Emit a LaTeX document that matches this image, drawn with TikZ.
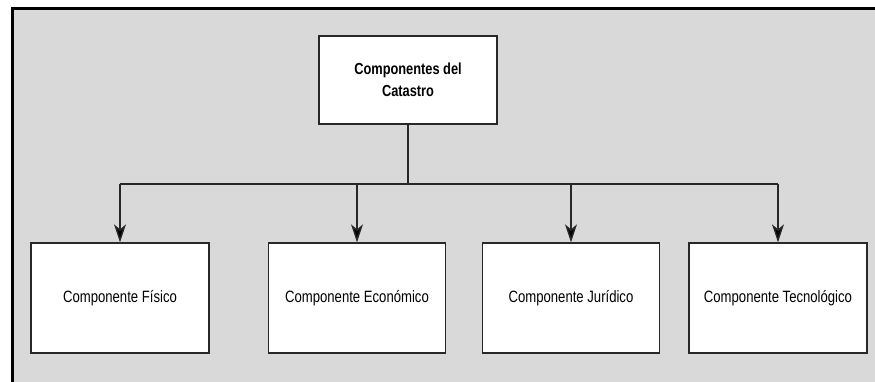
\documentclass[tikz,border=0pt]{standalone}
\usepackage{fontspec}
\setmainfont{Liberation Sans}
\newfontfamily\narrowfont[FakeStretch=0.8]{Liberation Sans}
\usetikzlibrary{arrows.meta}
\definecolor{panel}{RGB}{217,217,217}
\definecolor{edge}{RGB}{40,40,40}
\tikzset{
  compbox/.style={draw=edge, line width=1.3pt, fill=white, minimum width=178pt,
    minimum height=110pt, inner sep=0pt, align=center,
    font=\narrowfont\fontsize{16.4}{21}\selectfont},
  rootbox/.style={compbox, minimum height=88pt,
    font=\narrowfont\bfseries\fontsize{16}{21.5}\selectfont},
  link/.style={draw=edge, line width=1.8pt},
  feed/.style={draw=edge, line width=1.4pt,
    -{Stealth[length=18pt, width=12pt, inset=5pt, fill=black]}}
}
\begin{document}
\begin{tikzpicture}[x=1pt, y=-1pt]
  \useasboundingbox (0,0) rectangle (875,381);
  \begin{scope}
    \clip (0,0) rectangle (875,381);
    \fill[white] (0,0) rectangle (875,381);
    \draw[fill=panel, draw=black, line width=3pt] (12.5,8.5) rectangle (890,400);
  \end{scope}

  \node[rootbox] (root) at (408,80) {Componentes del\\Catastro};

  \node[compbox] (fisico) at (120,298) {Componente Físico};
  \node[compbox, minimum width=177pt] (eco) at (357,298) {Componente Económico};
  \node[compbox, minimum width=177pt] (jur) at (571,298) {Componente Jurídico};
  \node[compbox] (tec) at (778,298) {Componente Tecnológico};

  % trunk and horizontal bus
  \coordinate (hub) at (408,184);
  \coordinate (busL) at (fisico.north |- hub);
  \coordinate (busR) at (tec.north |- hub);
  \draw[link] (root.south) -- (hub);
  \draw[link, line join=miter] (busL) -- (busR);

  % drops to each component
  \draw[feed] (busL) -- (fisico.north);
  \draw[feed] (eco.north |- hub) -- (eco.north);
  \draw[feed] (jur.north |- hub) -- (jur.north);
  \draw[feed] (busR) -- (tec.north);
\end{tikzpicture}
\end{document}
